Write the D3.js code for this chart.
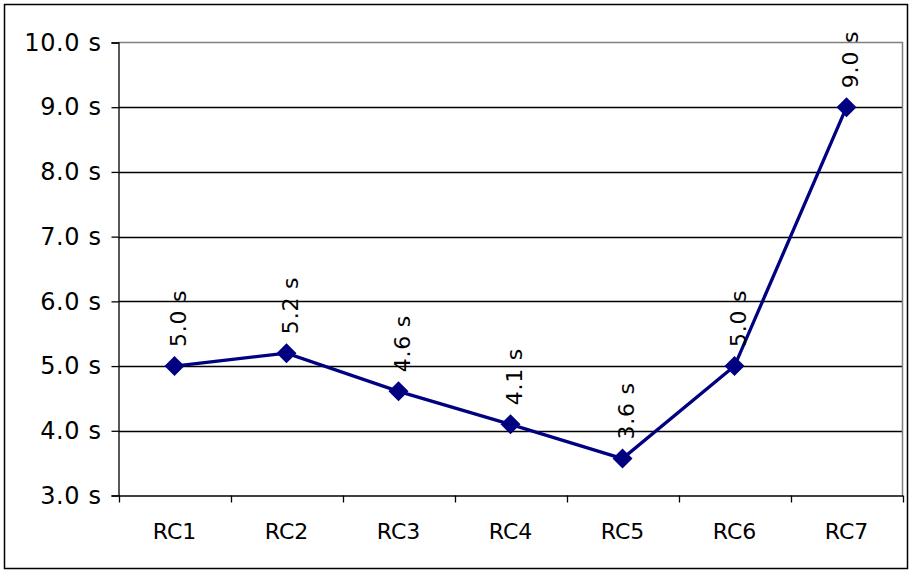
<!DOCTYPE html>
<html><head><meta charset="utf-8">
<script src="https://cdn.jsdelivr.net/npm/d3@7"></script>
<style>body{margin:0;background:#fff}svg{display:block}</style>
</head><body>
<svg id="c" width="910" height="570"></svg>
<script>
const categories = ["RC1","RC2","RC3","RC4","RC5","RC6","RC7"];
const values = [5.0, 5.2, 4.61, 4.1, 3.57, 5.0, 9.0];
const yTicks = [3,4,5,6,7,8,9,10];

const svg = d3.select("#c");
const font = "DejaVu Sans, Verdana, sans-serif";
const L = 118.5, R = 902.5, T = 42.5, B = 495.5;

svg.append("rect").attr("x",4.5).attr("y",4.5).attr("width",903).attr("height",564)
  .attr("fill","#fff").attr("stroke","#000").attr("stroke-width",1.5);

const x = d3.scaleBand().domain(categories).range([L,R]).padding(0);
const y = d3.scaleLinear().domain([3,10]).range([B,T]);

// gridlines
svg.append("g").selectAll("line").data(yTicks.filter(d=>d>3 && d<10)).join("line")
  .attr("x1",L).attr("x2",R).attr("y1",d=>Math.round(y(d))+0.5).attr("y2",d=>Math.round(y(d))+0.5)
  .attr("stroke","#000").attr("stroke-width",1.3);
// plot border top/right
svg.append("path").attr("d",`M${L},${T}H${R}V${B}`).attr("fill","none").attr("stroke","#808080").attr("stroke-width",1.5);

// y axis
const yAxis = d3.axisLeft(y).tickValues(yTicks).tickFormat(d=>d3.format(".1f")(d)+" s").tickSize(7).tickPadding(10);
const gy = svg.append("g").attr("transform",`translate(${L},0)`).call(yAxis);
gy.select(".domain").attr("stroke","#000").attr("stroke-width",1.3);
gy.selectAll(".tick line").attr("stroke","#000").attr("stroke-width",1.3);
gy.selectAll(".tick text").attr("font-family",font).attr("font-size",24).attr("letter-spacing","0.6px").attr("fill","#000");

// x axis
const xAxis = d3.axisBottom(x).tickSize(0).tickPadding(27.5);
const gx = svg.append("g").attr("transform",`translate(0,${B})`).call(xAxis);
gx.select(".domain").attr("stroke","#000").attr("stroke-width",1.3);
gx.selectAll(".tick text").attr("font-family",font).attr("font-size",22).attr("fill","#000");
// tick marks between categories
svg.append("g").selectAll("line").data(categories.concat(["_end"])).join("line")
  .attr("x1",(d,i)=>Math.round(L + i*x.bandwidth())+0.5).attr("x2",(d,i)=>Math.round(L + i*x.bandwidth())+0.5)
  .attr("y1",B).attr("y2",B+7).attr("stroke","#000").attr("stroke-width",1.3);

const cx = c => x(c) + x.bandwidth()/2;
const data = categories.map((c,i)=>({c, v: values[i]}));

svg.append("path").datum(data)
  .attr("d", d3.line().x(d=>cx(d.c)).y(d=>y(d.v)))
  .attr("fill","none").attr("stroke","#000080").attr("stroke-width",3.3);

svg.append("g").selectAll("path").data(data).join("path")
  .attr("d", d=>{const X=cx(d.c), Y=y(d.v), s=10; return `M${X},${Y-s}L${X+s},${Y}L${X},${Y+s}L${X-s},${Y}Z`;})
  .attr("fill","#000080");

svg.append("g").selectAll("text").data(data).join("text")
  .attr("transform", d=>`translate(${cx(d.c)},${y(d.v)-19}) rotate(-90)`)
  .attr("dy","0.5em")
  .attr("font-family",font).attr("font-size",22).attr("letter-spacing","0.8px").attr("fill","#000")
  .text(d=>d3.format(".1f")(d.v)+" s");
</script>
</body></html>
